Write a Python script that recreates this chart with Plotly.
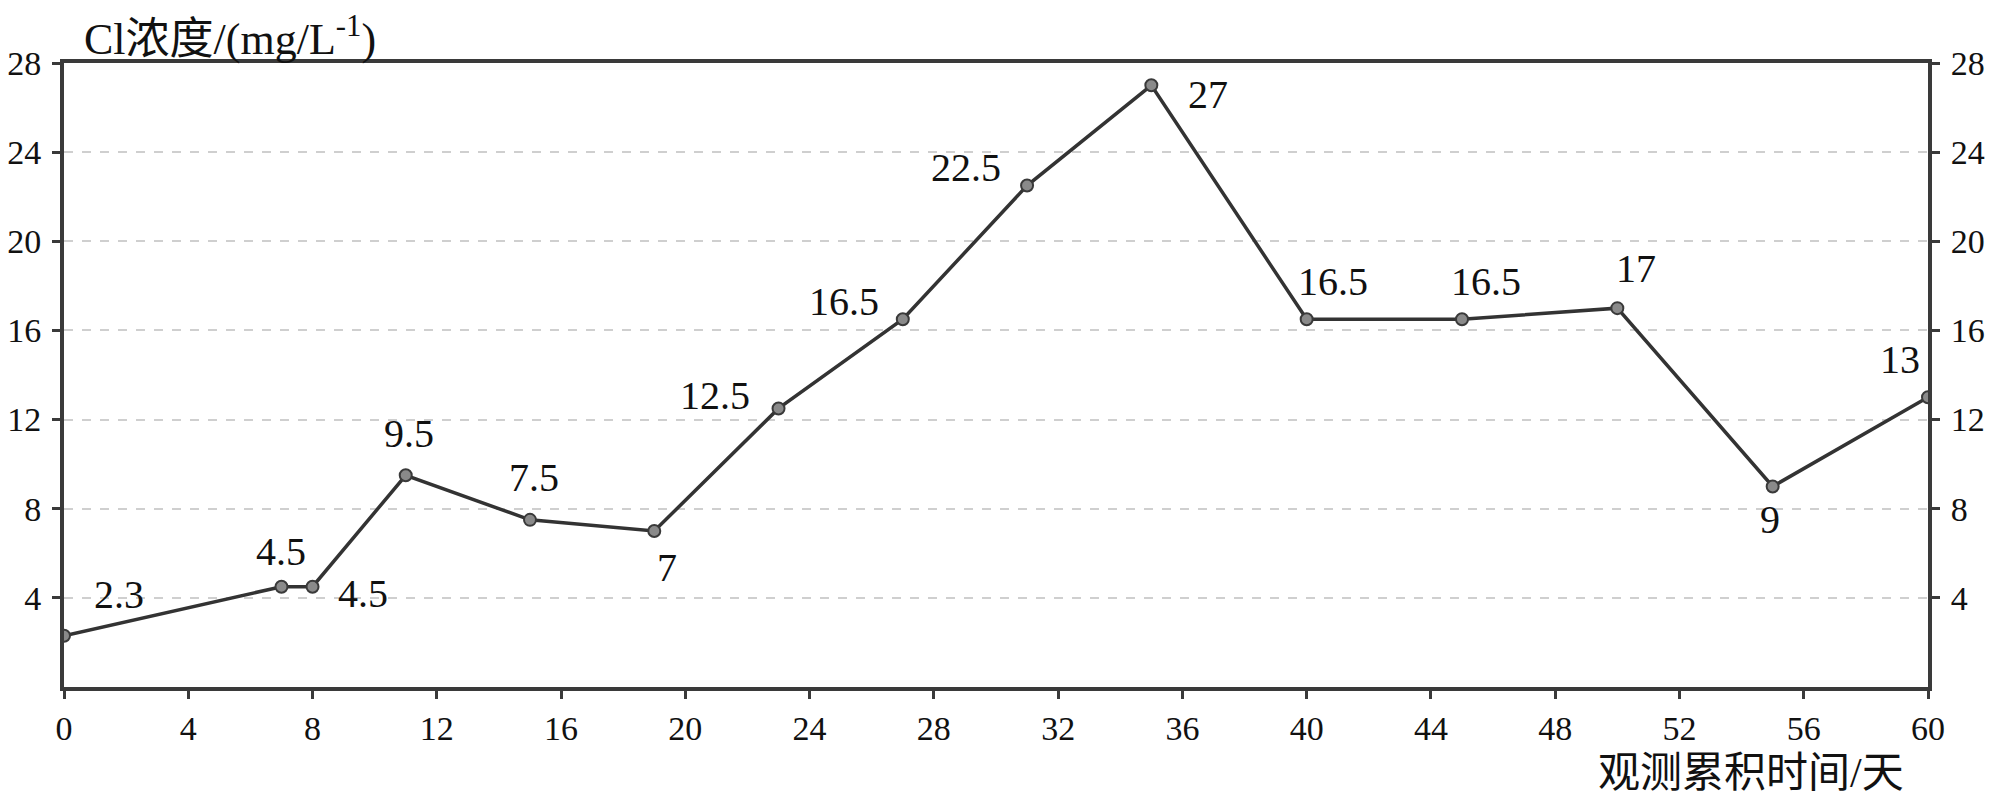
import plotly.graph_objects as go

# ── data ──────────────────────────────────────────────────────────────
days = [0, 7, 8, 11, 15, 19, 23, 27, 31, 35, 40, 45, 50, 55, 60]
cl_conc = [2.3, 4.5, 4.5, 9.5, 7.5, 7, 12.5, 16.5, 22.5, 27, 16.5, 16.5, 17, 9, 13]
labels = ["2.3", "4.5", "4.5", "9.5", "7.5", "7", "12.5", "16.5", "22.5",
          "27", "16.5", "16.5", "17", "9", "13"]
y_ticks = [4, 8, 12, 16, 20, 24, 28]
x_ticks = list(range(0, 61, 4))

# pixel offsets of each value label from its point
label_dx = [55, 0, 50, 3, 4, 13, -64, -59, -61, 57, 26, 24, 19, -3, -28]
label_dy = [-41, -35, 7, -42, -42, 36, -13, -18, -18, 9, -38, -38, -40, 33, -38]

FONT = "Liberation Serif, Times New Roman, Noto Sans CJK SC, serif"
AXIS_COLOR = "#3a3a3a"

fig = go.Figure()
fig.add_trace(go.Scatter(
    x=days, y=cl_conc, mode="lines+markers",
    line=dict(color="#333333", width=3.5),
    marker=dict(size=12, color="#8a8a8a", line=dict(color="#3a3a3a", width=2)),
    showlegend=False, hoverinfo="x+y",
))
# invisible trace so the right axis is drawn
fig.add_trace(go.Scatter(
    x=days, y=cl_conc, yaxis="y2", mode="lines",
    line=dict(width=0), showlegend=False, hoverinfo="skip",
))

for x, y, t, dx, dy in zip(days, cl_conc, labels, label_dx, label_dy):
    fig.add_annotation(
        x=x, y=y, text=t, showarrow=False,
        xshift=dx, yshift=-dy,
        font=dict(family=FONT, size=40, color="#111111"),
    )

axis_common = dict(
    showline=True, linecolor=AXIS_COLOR, linewidth=4,
    ticks="outside", ticklen=8, tickwidth=3, tickcolor=AXIS_COLOR,
    tickfont=dict(family=FONT, size=34, color="#111111"),
    zeroline=False, automargin=False,
)

# the page body adds an 8px offset, margins compensate for it
fig.update_layout(
    width=2000, height=805,
    margin=dict(l=56, r=80, t=55, b=126),
    plot_bgcolor="white", paper_bgcolor="white",
    xaxis=dict(
        range=[0, 60], tickvals=x_ticks, mirror=True, showgrid=False,
        ticklabelstandoff=0, **axis_common,
    ),
    yaxis=dict(
        range=[0, 28], tickvals=y_ticks, showgrid=True,
        gridcolor="#cfcfcf", griddash="dash", gridwidth=2,
        ticklabelstandoff=4, **axis_common,
    ),
    yaxis2=dict(
        range=[0, 28], tickvals=y_ticks, overlaying="y", side="right",
        showgrid=False, ticklabelstandoff=4, **axis_common,
    ),
)

# axis titles
fig.add_annotation(
    xref="paper", yref="paper", x=0, y=1.0, yshift=27, xshift=18,
    xanchor="left", yanchor="middle", showarrow=False,
    text="Cl浓度/(mg/L<sup>-1</sup>)",
    font=dict(family=FONT, size=44, color="#111111"),
)
fig.add_annotation(
    xref="paper", yref="paper", x=1.0, y=0, yshift=-86, xshift=-22,
    xanchor="right", yanchor="middle", showarrow=False,
    text="观测累积时间/天",
    font=dict(family=FONT, size=42, color="#111111"),
)

fig.write_html("out.html")
